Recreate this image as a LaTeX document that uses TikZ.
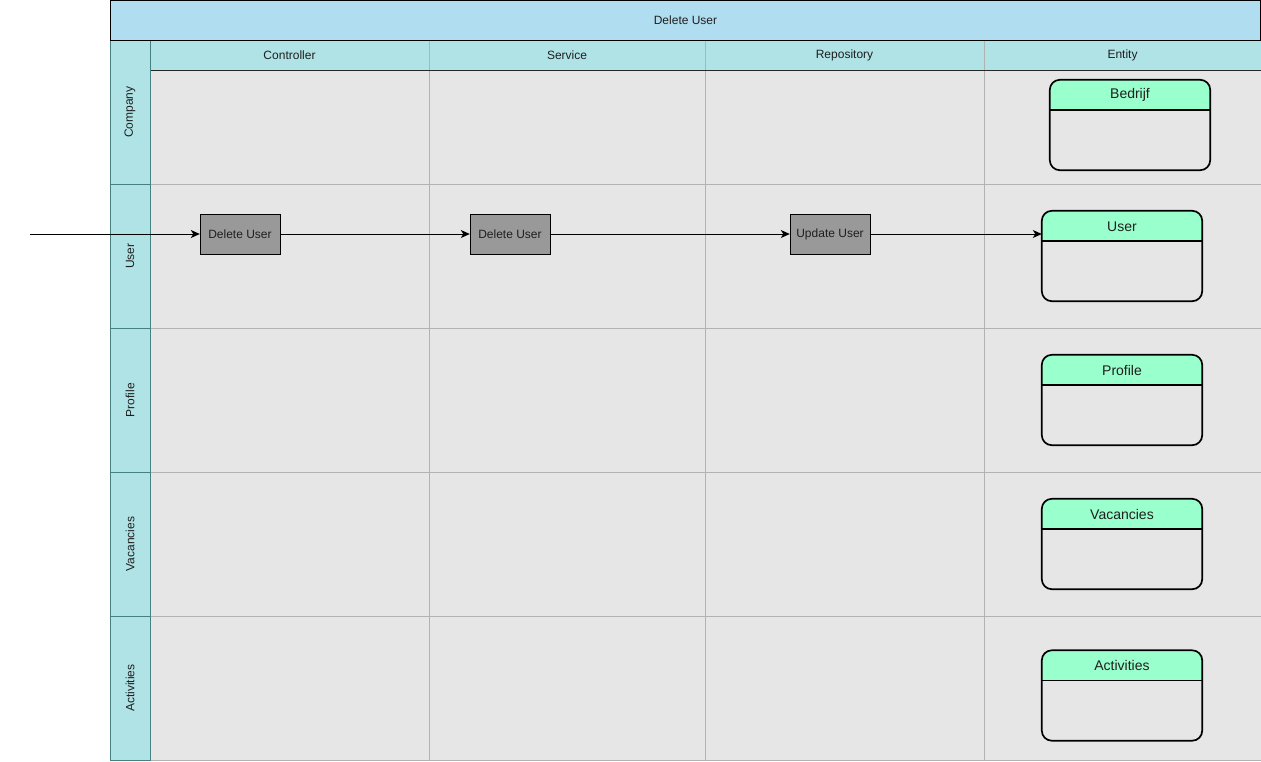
\documentclass[tikz,border=0pt]{standalone}
\usepackage{fontspec}
\setmainfont{Liberation Sans}
\usepackage{tikz}
\usetikzlibrary{arrows.meta,positioning}
\definecolor{titleblue}{HTML}{B1DDF0}
\definecolor{laneteal}{HTML}{B0E3E6}
\definecolor{cellgray}{HTML}{E6E6E6}
\definecolor{boxgray}{HTML}{999999}
\definecolor{entgreen}{HTML}{99FFCC}
\colorlet{celledge}{black!30}
\colorlet{laneedge}{teal!45!gray}
\colorlet{txt}{black!88}
\tikzstyle{cell}=[draw=celledge,fill=cellgray]
\tikzstyle{lanehead}=[draw=laneedge,fill=laneteal]
\tikzstyle{lanelabel}=[text=txt,font=\fontsize{12}{14}\selectfont,rotate=90]
\tikzstyle{collabel}=[text=txt,font=\fontsize{12}{14}\selectfont]
\tikzstyle{task}=[draw=black,fill=boxgray,text=txt,font=\fontsize{12}{14}\selectfont,minimum width=80pt,minimum height=40pt,inner sep=0pt]
\tikzstyle{entity}=[minimum width=160pt,minimum height=90pt,inner sep=0pt]
\tikzstyle{flow}=[draw=black,line width=0.9pt,-{Stealth[length=9pt,width=8pt,inset=2.5pt]}]

\begin{document}
\begin{tikzpicture}[x=1pt,y=-1pt]
	\useasboundingbox (0,0) rectangle (1261,761);
	% grid of cells
	\foreach \xa/\xb in {150/429,429/705,705/984,984/1261}
	  \foreach \ya/\yb in {70/184,184/328,328/472,472/616,616/760}
	    \path[cell] (\xa,\ya) rectangle (\xb,\yb);
	% lane titles
	\foreach \ya/\yb/\lane in {40/184/Company,184/328/User,328/472/Profile,472/616/Vacancies,616/760/Activities}{
	  \path[lanehead] (110,\ya) rectangle (150,\yb);
	  \node[lanelabel] (lane-\lane) at (130,{(\ya+\yb)/2}) {\lane};
	}
	% column titles
	\foreach \xa/\xb/\col in {150/429/Controller,429/705/Service,705/984/Repository,984/1261/Entity}{
	  \path[draw=celledge,fill=laneteal] (\xa,40) rectangle (\xb,70);
	  \node[collabel] (col-\col) at ({(\xa+\xb)/2},55.5) {\col};
	}
	\draw[black!85] (150,70) -- (1261,70);
	\draw[laneedge] (150,40) -- (150,760);
	\path[draw=black,fill=titleblue] (110,0.5) rectangle (1260.5,40);
	\node[collabel] (title) at (685.5,20.5) {Delete User};
	% entities
	\foreach \ent/\cx/\cy/\lbl in {bedrijf/1130/125/Bedrijf,user/1122/256/User,profile/1122/400/Profile,vacancies/1122/544/Vacancies,activities/1122/695.5/Activities}{
	  \node[entity] (\ent) at (\cx,\cy) {};
	  \begin{scope}
	    \clip[rounded corners=10pt] (\ent.south west) rectangle (\ent.north east);
	    \fill[entgreen] (\ent.north west) rectangle ([yshift=-30pt]\ent.north east);
	  \end{scope}
	  \draw[line width=1.5pt] ([yshift=-30pt]\ent.north west) -- ([yshift=-30pt]\ent.north east);
	  \draw[line width=1.7pt,rounded corners=10pt] (\ent.south west) rectangle (\ent.north east);
	  \node[text=txt,font=\fontsize{14}{16}\selectfont] (\ent-label) at ([yshift=-15.5pt]\ent.north) {\lbl};
	}
	% tasks
	\node[task] (ctrl) at (240,234) {Delete User};
	\node[task] (serv) at (510,234) {Delete User};
	\node[task] (repo) at (830,234) {Update User};
	\coordinate (start) at (30,234);
	\draw[flow] (start) -- (ctrl);
	\draw[flow] (ctrl) -- (serv);
	\draw[flow] (serv) -- (repo);
	\draw[flow] (repo) -- (repo -| user.west);
\end{tikzpicture}
\end{document}
